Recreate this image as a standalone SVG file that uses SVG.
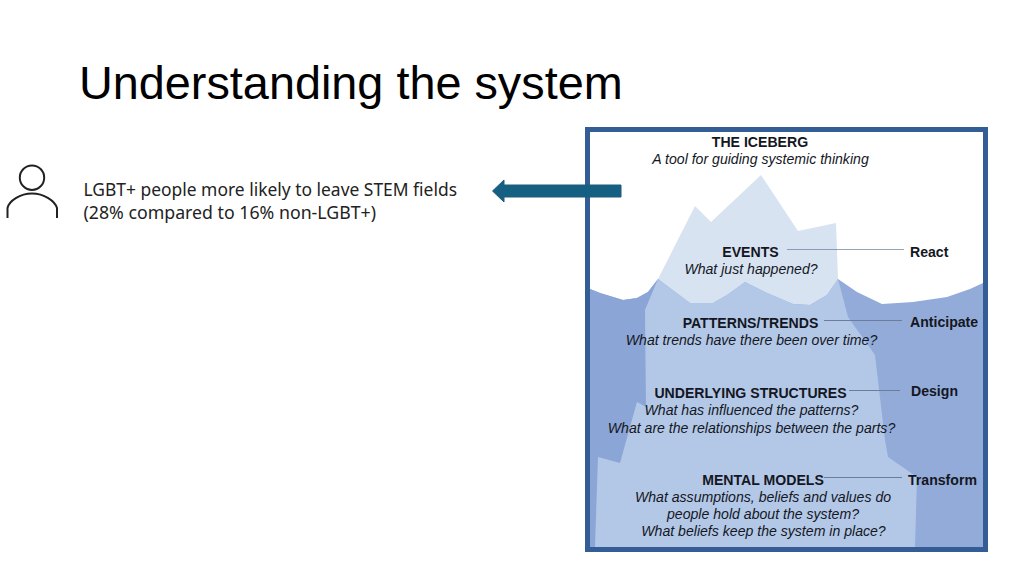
<svg xmlns="http://www.w3.org/2000/svg" width="1024" height="576" viewBox="0 0 1024 576">
<style>
text{font-family:"Liberation Sans",Arial,sans-serif;fill:#14171f}
.h{font-weight:700;font-size:14.1px;text-anchor:middle}
.i{font-style:italic;font-size:14.1px;text-anchor:middle}
.a{font-weight:700;font-size:14.1px}
.l{stroke:#6b7c9c;stroke-width:1;fill:none}
.body{font-family:"Noto Sans","Open Sans",sans-serif;font-size:17.4px;fill:#222}
</style>
<rect width="1024" height="576" fill="#fff"/>
<text x="79" y="99" style="font-size:46.8px;fill:#000">Understanding the system</text>
<g id="person" fill="none" stroke="#222" stroke-width="2">
<circle cx="32" cy="177.7" r="12.2"/>
<path d="M7.500 218V208C9 201 20 193.500 32 193.500S55 201 57 208V218"/>
</g>
<g id="statement">
<text class="body" x="83.500" y="195.500" textLength="373.500" lengthAdjust="spacingAndGlyphs">LGBT+ people more likely to leave STEM fields</text>
<text class="body" x="83.500" y="218.500" textLength="292.500" lengthAdjust="spacingAndGlyphs">(28% compared to 16% non-LGBT+)</text>
</g>
<g id="iceberg">
<rect x="587.500" y="129.500" width="398" height="420" fill="#fff" stroke="#345d96" stroke-width="5"/>
<path d="M590 289L600 293L623 300L637 298L648 292L658 279L838 279L857 292L882 304L913 302L947 297L970 289L983 283V547H590Z" fill="#93abd9"/>
<path d="M590 289L600 293L623 300L637 298L648 292L658 279L645 310L646 407L637 402L620 463L598 457L595 547H590Z" fill="#8ba5d6"/>
<path d="M658 279L695 206L711 222L761 175L798 231L836 223L838 279L827 295L810 305L793 304L767 293L745 282L727 295L713 303L690 303Z" fill="#d8e3f1"/>
<path d="M658 279L690 303L713 303L727 295L745 282L767 293L793 304L810 305L827 295L838 279L848 317L875 355L885 440L888 457L917 477L915 547H595L598 457L620 463L637 402L646 407L645 310Z" fill="#b3c8e7"/>
</g>
<g id="connectors">
<path class="l" stroke-opacity="0.7" d="M787 249.500H904"/>
<path class="l" d="M824 320.500H902M849 390.500H900M824 477.500H902"/>
</g>
<g id="iceberg-labels">
<text class="h" x="760" y="147">THE ICEBERG</text>
<text class="i" x="760.500" y="164">A tool for guiding systemic thinking</text>
<text class="h" x="750.500" y="257">EVENTS</text>
<text class="i" x="751" y="274">What just happened?</text>
<text class="h" x="750.500" y="328">PATTERNS/TRENDS</text>
<text class="i" x="751.500" y="345">What trends have there been over time?</text>
<text class="h" x="750.500" y="398">UNDERLYING STRUCTURES</text>
<text class="i" x="751.500" y="415">What has influenced the patterns?</text>
<text class="i" x="751.500" y="433">What are the relationships between the parts?</text>
<text class="h" x="763" y="485">MENTAL MODELS</text>
<text class="i" x="763" y="502">What assumptions, beliefs and values do</text>
<text class="i" x="763" y="519">people hold about the system?</text>
<text class="i" x="763.500" y="536">What beliefs keep the system in place?</text>
<text class="a" x="910" y="257">React</text>
<text class="a" x="910" y="327">Anticipate</text>
<text class="a" x="911" y="396">Design</text>
<text class="a" x="908" y="485">Transform</text>
</g>
<g id="arrow">
<path d="M621 185H504V180L492.500 191L504 202V197H621Z" fill="#156082" stroke="#1f5a7c" stroke-width="1"/>
</g>
</svg>
